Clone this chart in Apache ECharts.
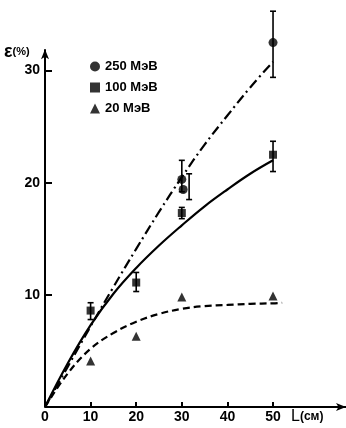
<!DOCTYPE html>
<html>
<head>
<meta charset="utf-8">
<script src="https://cdn.jsdelivr.net/npm/echarts@6/dist/echarts.min.js"></script>
<style>
  html, body { margin: 0; padding: 0; background: #fff; }
  #chart { width: 346px; height: 428px; }
</style>
</head>
<body>
<div id="chart"></div>
<script>
  // tick labels
  var xTicks = [10, 20, 30, 40, 50];
  var xLabels = [0, 10, 20, 30, 40, 50];
  var yTicks = [10, 20, 30];

  // measured points [L, eps]
  var pts250 = [[30, 20.3], [30.3, 19.4], [50, 32.5]];
  var pts100 = [[10, 8.6], [20, 11.1], [30, 17.3], [50, 22.5]];
  var pts20 = [[10, 4.1], [20, 6.3], [30, 9.8], [50, 9.9]];

  // error bars [L, low, high]
  var err250 = [[30, 19.2, 22.0], [31.6, 18.5, 20.8], [50, 29.4, 35.3]];
  var err100 = [[10, 7.8, 9.3], [20, 10.3, 12.0], [30, 16.8, 17.8], [50, 21.0, 23.7]];

  // fitted curves
  var fit250 = [[0, 0], [5, 3.6], [10, 7.2], [15, 10.7], [20, 14.1], [25, 17.4], [30, 20.5], [35, 23.4], [40, 26.0], [45, 28.5], [50, 30.8]];
  var fit100 = [[0, 0], [5, 3.9], [10, 7.3], [15, 10.1], [20, 12.4], [25, 14.4], [30, 16.2], [35, 17.9], [40, 19.4], [45, 20.8], [50, 22.0]];
  var fit20 = [[0, 0], [5, 3.0], [10, 5.2], [15, 6.6], [20, 7.6], [25, 8.3], [30, 8.75], [35, 9.0], [40, 9.1], [45, 9.2], [50, 9.25], [52, 9.3]];

  var yAxisTop = 31.9;

  var font = 'Liberation Sans';

  function errBar(params, api) {
    var x = api.value(0), lo = api.value(1), hi = api.value(2);
    var a = api.coord([x, lo]), b = api.coord([x, hi]);
    var w = 3;
    var st = { stroke: '#000', lineWidth: 1.6 };
    return {
      type: 'group',
      children: [
        { type: 'line', shape: { x1: a[0], y1: a[1], x2: b[0], y2: b[1] }, style: st },
        { type: 'line', shape: { x1: a[0] - w, y1: a[1], x2: a[0] + w, y2: a[1] }, style: st },
        { type: 'line', shape: { x1: b[0] - w, y1: b[1], x2: b[0] + w, y2: b[1] }, style: st }
      ]
    };
  }

  var myChart = echarts.init(document.getElementById('chart'));
  myChart.setOption({
    backgroundColor: '#fff',
    animation: false,
    grid: { left: 45, right: 0, top: 0, bottom: 21 },
    legend: {
      data: [
        { name: '250 МэВ', icon: 'circle' },
        { name: '100 МэВ', icon: 'rect' },
        { name: '20 МэВ', icon: 'triangle' }
      ],
      orient: 'vertical',
      left: 85,
      top: 55,
      itemWidth: 10,
      itemHeight: 10,
      itemGap: 8,
      textStyle: { color: '#000', fontFamily: font, fontWeight: 'bold', fontSize: 13 }
    },
    xAxis: {
      type: 'value',
      min: 0,
      max: 66,
      splitLine: { show: false },
      axisLine: { show: true, symbol: ['none', 'arrow'], symbolSize: [6, 10], lineStyle: { color: '#000', width: 2 } },
      axisTick: { show: true, inside: true, length: 5, customValues: xTicks, lineStyle: { color: '#000', width: 2 } },
      axisLabel: { customValues: xLabels, color: '#000', fontFamily: font, fontWeight: 'bold', fontSize: 14, margin: 3 }
    },
    yAxis: {
      type: 'value',
      min: 0,
      max: 36.3,
      splitLine: { show: false },
      axisLine: { show: false },
      axisTick: { show: true, inside: true, length: 7, customValues: yTicks, lineStyle: { color: '#000', width: 2 } },
      axisLabel: { customValues: yTicks, color: '#000', fontFamily: font, fontWeight: 'bold', fontSize: 14, margin: 5 }
    },
    graphic: [
      {
        type: 'text', left: 4, top: 43,
        style: {
          text: '{e|ε}{p|(%)}',
          rich: {
            e: { fontFamily: font, fontWeight: 'bold', fontSize: 18, fill: '#000' },
            p: { fontFamily: font, fontWeight: 'bold', fontSize: 11, fill: '#000' }
          }
        }
      },
      {
        type: 'text', left: 291, top: 409,
        style: {
          text: '{l|L}{p|(см)}',
          rich: {
            l: { fontFamily: font, fontSize: 16, fill: '#000' },
            p: { fontFamily: font, fontWeight: 'bold', fontSize: 12, fill: '#000' }
          }
        }
      }
    ],
    series: [
      {
        name: 'axisY', type: 'line', data: [], silent: true,
        markLine: {
          silent: true, animation: false,
          symbol: ['none', 'arrow'], symbolSize: [6, 10],
          label: { show: false },
          lineStyle: { color: '#000', width: 2, type: 'solid' },
          data: [[{ coord: [0, 0] }, { coord: [0, yAxisTop] }]]
        }
      },
      {
        name: 'fit250', type: 'line', data: fit250, smooth: 0.4, showSymbol: false, silent: true,
        lineStyle: { color: '#000', width: 2.2, type: [10, 4, 2, 4] }
      },
      {
        name: 'fit100', type: 'line', data: fit100, smooth: 0.4, showSymbol: false, silent: true,
        lineStyle: { color: '#000', width: 2.2 }
      },
      {
        name: 'fit20', type: 'line', data: fit20, smooth: 0.4, showSymbol: false, silent: true,
        lineStyle: { color: '#000', width: 2.2, type: [7, 4] }
      },
      { name: 'err250', type: 'custom', renderItem: errBar, data: err250, clip: false },
      { name: 'err100', type: 'custom', renderItem: errBar, data: err100, clip: false },
      { name: '250 МэВ', type: 'scatter', data: pts250, symbol: 'circle', symbolSize: 9, itemStyle: { color: '#000' }, clip: false },
      { name: '100 МэВ', type: 'scatter', data: pts100, symbol: 'rect', symbolSize: 8, itemStyle: { color: '#000' } },
      { name: '20 МэВ', type: 'scatter', data: pts20, symbol: 'triangle', symbolSize: 9, itemStyle: { color: '#000' } }
    ]
  });
</script>
</body>
</html>
